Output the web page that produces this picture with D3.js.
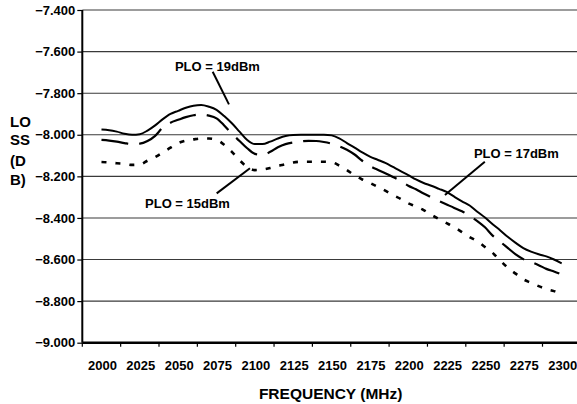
<!DOCTYPE html>
<html>
<head>
<meta charset="utf-8">
<script src="https://cdn.jsdelivr.net/npm/d3@7"></script>
<style>
  html, body { margin: 0; padding: 0; background: #fff; }
  svg { display: block; font-family: "Liberation Sans", Arial, sans-serif; font-weight: bold; }
</style>
</head>
<body>
<svg id="chart" width="577" height="404"></svg>
<script>
// ---- data ----
const freqs = d3.range(2000, 2301, 5);
const tickLabels = [2000, 2025, 2050, 2075, 2100, 2125, 2150, 2175, 2200, 2225, 2250, 2275, 2300];
const yTicks = [-9.0, -8.8, -8.6, -8.4, -8.2, -8.0, -7.8, -7.6, -7.4];

const plo19 = [-7.975,-7.978,-7.985,-7.995,-8.000,-7.997,-7.980,-7.955,-7.925,-7.900,
  -7.885,-7.870,-7.860,-7.857,-7.865,-7.880,-7.910,-7.945,-7.985,-8.025,
  -8.045,-8.045,-8.033,-8.018,-8.006,-8.001,-8.000,-8.000,-8.000,-8.000,
  -8.003,-8.017,-8.040,-8.062,-8.085,-8.105,-8.120,-8.135,-8.155,-8.175,
  -8.194,-8.215,-8.232,-8.245,-8.260,-8.275,-8.298,-8.320,-8.340,-8.370,
  -8.398,-8.430,-8.460,-8.492,-8.520,-8.545,-8.562,-8.575,-8.585,-8.600,-8.618];
const plo17 = [-8.025,-8.028,-8.033,-8.040,-8.045,-8.043,-8.030,-8.005,-7.965,-7.942,
  -7.928,-7.915,-7.906,-7.903,-7.908,-7.921,-7.955,-7.995,-8.030,-8.065,
  -8.092,-8.098,-8.082,-8.060,-8.045,-8.037,-8.032,-8.029,-8.030,-8.035,
  -8.043,-8.055,-8.072,-8.095,-8.125,-8.150,-8.168,-8.185,-8.203,-8.222,
  -8.245,-8.262,-8.282,-8.300,-8.318,-8.335,-8.352,-8.368,-8.390,-8.415,
  -8.445,-8.485,-8.515,-8.545,-8.575,-8.598,-8.612,-8.627,-8.645,-8.658,-8.672];
const plo15 = [-8.131,-8.133,-8.137,-8.140,-8.145,-8.143,-8.125,-8.107,-8.085,-8.062,
  -8.040,-8.028,-8.022,-8.018,-8.018,-8.024,-8.048,-8.082,-8.122,-8.155,
  -8.170,-8.167,-8.160,-8.150,-8.142,-8.133,-8.130,-8.130,-8.130,-8.130,
  -8.132,-8.148,-8.170,-8.195,-8.215,-8.232,-8.250,-8.269,-8.290,-8.308,
  -8.330,-8.345,-8.362,-8.385,-8.405,-8.425,-8.445,-8.468,-8.492,-8.512,
  -8.540,-8.568,-8.605,-8.640,-8.668,-8.695,-8.712,-8.728,-8.742,-8.752,-8.765];

const seriesNames = ["PLO = 19dBm", "PLO = 17dBm", "PLO = 15dBm"];
const seriesValues = [plo19, plo17, plo15];

// ---- layout ----
const svg = d3.select("#chart");
const padL = 82.3, padT = 10, padB = 342.7;
const step = 38.35;
const x = d3.scaleLinear().domain([1987.5, 2312.5]).range([padL, padL + 13 * step]);
const y = d3.scaleLinear().domain([-9.0, -7.4]).range([padB, padT]);

// gridlines
svg.append("g").selectAll("line").data(yTicks.slice(1)).join("line")
  .attr("x1", padL).attr("x2", 577)
  .attr("y1", d => y(d)).attr("y2", d => y(d))
  .attr("stroke", "#3a3a3a").attr("stroke-width", 1.1);

// y axis
const yAxis = d3.axisLeft(y).tickValues(yTicks).tickFormat(d3.format(".3f")).tickSize(5).tickPadding(2);
const gy = svg.append("g").attr("transform", `translate(${padL},0)`).call(yAxis);
gy.select(".domain").attr("stroke", "#000").attr("stroke-width", 2).attr("d", `M0,${padT}V${padB}`);
gy.selectAll(".tick line").attr("stroke", "#000").attr("stroke-width", 1.2);
gy.selectAll(".tick text").attr("font-size", 13).attr("font-weight", "bold")
  .attr("font-family", "Liberation Sans, Arial, sans-serif").attr("fill", "#000");

// x axis: ticks at category boundaries, labels at category centers
const boundaries = d3.range(0, 14).map(i => 1987.5 + 25 * i);
const gx = svg.append("g").attr("transform", `translate(0,${padB})`);
gx.append("line").attr("x1", padL).attr("x2", 577).attr("y1", 0).attr("y2", 0)
  .attr("stroke", "#000").attr("stroke-width", 2.4);
gx.selectAll("line.tk").data(boundaries).join("line").attr("class", "tk")
  .attr("x1", d => x(d)).attr("x2", d => x(d)).attr("y1", 0).attr("y2", 4)
  .attr("stroke", "#000").attr("stroke-width", 1.2);
gx.selectAll("text").data(tickLabels).join("text")
  .attr("x", d => x(d) + 1).attr("y", 27.5)
  .attr("text-anchor", "middle").attr("font-size", 13).text(d => d);

// axis titles
svg.append("text").attr("x", (padL + 577) / 2 + 1).attr("y", 399)
  .attr("text-anchor", "middle").attr("font-size", 15.5).text("FREQUENCY (MHz)");
const yTitle = ["LO", "SS", "(D", "B)"];
const yTitleBase = [127, 145, 166, 185];
svg.append("g").selectAll("text").data(yTitle).join("text")
  .attr("x", 10).attr("y", (d, i) => yTitleBase[i])
  .attr("font-size", 15).text(d => d);

// series lines
const styles = [
  { dash: null, width: 2.0 },
  { dash: "27,11", width: 2.2 },
  { dash: "5,9", width: 2.6 }
];
const line = d3.line().x(d => x(d[0])).y(d => y(d[1])).curve(d3.curveMonotoneX);
seriesValues.forEach((vals, i) => {
  svg.append("path")
    .datum(freqs.map((f, j) => [f, vals[j]]))
    .attr("d", line)
    .attr("fill", "none").attr("stroke", "#000")
    .attr("stroke-width", styles[i].width)
    .attr("stroke-dasharray", styles[i].dash)
    .attr("stroke-linejoin", "round");
});

// annotations (positions in data units)
const notes = [
  { text: seriesNames[0], tx: 2047.9, ty: -7.692, x1: 2072.5, y1: -7.697, x2: 2083.1, y2: -7.854 },
  { text: seriesNames[1], tx: 2242.8, ty: -8.113, x1: 2249.9, y1: -8.130, x2: 2223.9, y2: -8.290 },
  { text: seriesNames[2], tx: 2028.4, ty: -8.354, x1: 2075.1, y1: -8.282, x2: 2096.8, y2: -8.161 }
];
notes.forEach(n => {
  svg.append("line")
    .attr("x1", x(n.x1)).attr("y1", y(n.y1)).attr("x2", x(n.x2)).attr("y2", y(n.y2))
    .attr("stroke", "#000").attr("stroke-width", 2);
  svg.append("text").attr("x", x(n.tx)).attr("y", y(n.ty))
    .attr("font-size", 13).text(n.text);
});
</script>
</body>
</html>
